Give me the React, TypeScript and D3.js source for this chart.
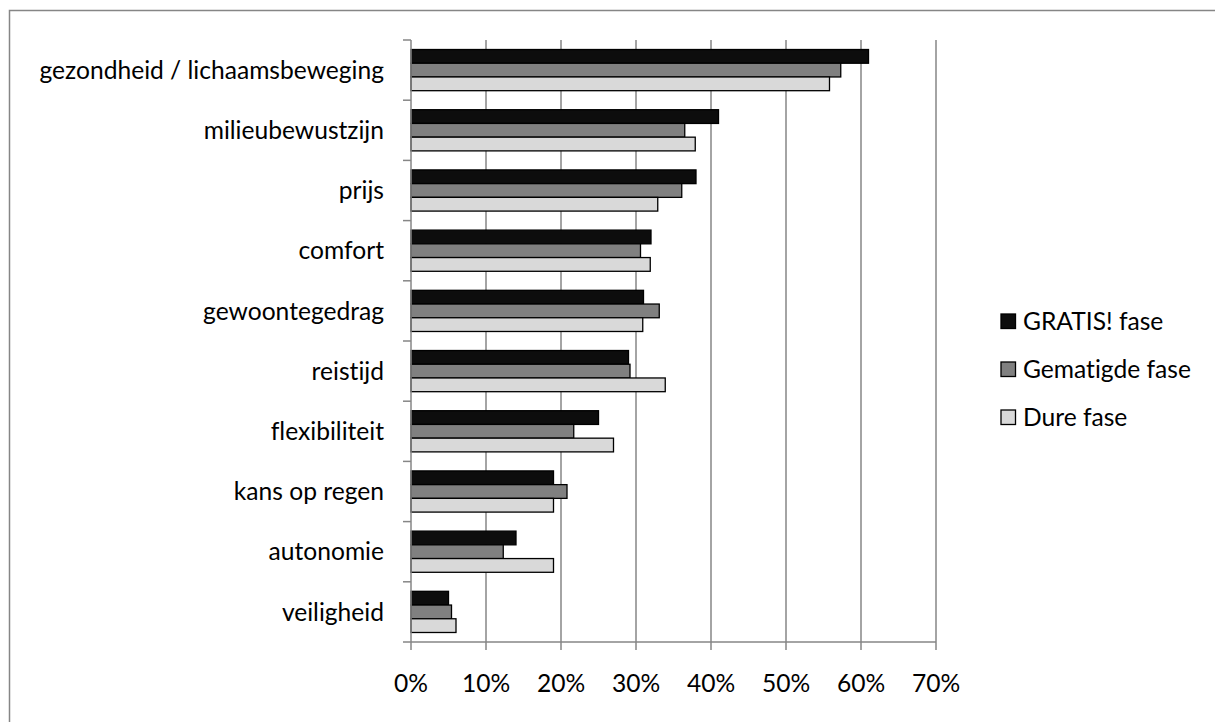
import React from "react";
import * as d3 from "d3";

// Motives for choosing the bicycle, per pricing phase (share of respondents)
const categories = [
  "gezondheid / lichaamsbeweging",
  "milieubewustzijn",
  "prijs",
  "comfort",
  "gewoontegedrag",
  "reistijd",
  "flexibiliteit",
  "kans op regen",
  "autonomie",
  "veiligheid",
];

const seriesNames = ["GRATIS! fase", "Gematigde fase", "Dure fase"];

const gratisValues = [0.61, 0.41, 0.38, 0.32, 0.31, 0.29, 0.25, 0.19, 0.14, 0.05];
const gematigdValues = [0.573, 0.365, 0.361, 0.306, 0.331, 0.292, 0.217, 0.208, 0.123, 0.054];
const dureValues = [0.558, 0.379, 0.329, 0.319, 0.309, 0.339, 0.27, 0.19, 0.19, 0.06];

const xTicks = [0, 0.1, 0.2, 0.3, 0.4, 0.5, 0.6, 0.7];

const fills = ["#0d0d0d", "#808080", "#d9d9d9"];

const W = 1215;
const H = 722;
const plot = { left: 411, right: 936, top: 40, bottom: 642 };
const FONT = "Lato, 'Liberation Sans', sans-serif";
const FS = 24.6;

export default function App() {
  const x = d3.scaleLinear().domain([0, 0.7]).range([plot.left, plot.right]);
  const y = d3
    .scaleBand<string>()
    .domain(categories)
    .range([plot.top, plot.bottom])
    .paddingInner(0.316)
    .paddingOuter(0.158);
  const inner = d3
    .scaleBand<string>()
    .domain(seriesNames)
    .range([0, y.bandwidth()]);

  const allSeries = [gratisValues, gematigdValues, dureValues];
  const step = y.step();

  return (
    <svg
      width={W}
      height={H}
      style={{ position: "absolute", left: 0, top: 0, background: "#fff", fontVariantLigatures: "none" }}
      fontFamily={FONT}
    >
      <rect x={0} y={0} width={W} height={H} fill="#fff" />
      {/* chart area border */}
      <rect x={9.5} y={10.5} width={W + 20} height={H + 20} fill="none" stroke="#868686" strokeWidth={1.5} />

      {/* vertical gridlines */}
      {xTicks.slice(1).map((t) => (
        <line key={t} x1={x(t)} x2={x(t)} y1={plot.top} y2={plot.bottom} stroke="#868686" strokeWidth={1.5} />
      ))}

      {/* bars */}
      {categories.map((c, i) => (
        <g key={c} transform={`translate(0,${y(c)})`}>
          {seriesNames.map((s, j) => (
            <rect
              key={s}
              x={x(0)}
              y={inner(s)}
              width={x(allSeries[j][i]) - x(0)}
              height={inner.bandwidth()}
              fill={fills[j]}
              stroke="#000"
              strokeWidth={1.3}
            />
          ))}
        </g>
      ))}

      {/* category axis */}
      <line x1={plot.left} x2={plot.left} y1={plot.top} y2={plot.bottom} stroke="#868686" strokeWidth={1.5} />
      {categories.map((c, i) => (
        <line
          key={"t" + c}
          x1={plot.left - 8}
          x2={plot.left}
          y1={plot.top + i * step}
          y2={plot.top + i * step}
          stroke="#868686"
          strokeWidth={1.5}
        />
      ))}
      <line x1={plot.left - 8} x2={plot.left} y1={plot.bottom} y2={plot.bottom} stroke="#868686" strokeWidth={1.5} />
      {categories.map((c) => (
        <text
          key={"l" + c}
          x={384}
          y={(y(c) ?? 0) + y.bandwidth() / 2}
          dy="0.35em"
          textAnchor="end"
          fontSize={FS}
          fill="#000"
        >
          {c}
        </text>
      ))}

      {/* value axis */}
      <line x1={plot.left} x2={plot.right} y1={plot.bottom} y2={plot.bottom} stroke="#868686" strokeWidth={1.5} />
      {xTicks.map((t) => (
        <g key={"x" + t}>
          <line x1={x(t)} x2={x(t)} y1={plot.bottom} y2={plot.bottom + 8} stroke="#868686" strokeWidth={1.5} />
          <text x={x(t)} y={692} textAnchor="middle" fontSize={FS} fill="#000">
            {d3.format(".0%")(t)}
          </text>
        </g>
      ))}

      {/* legend */}
      {seriesNames.map((s, j) => (
        <g key={"lg" + s} transform={`translate(1001,${314 + j * 48})`}>
          <rect x={0} y={0} width={14.5} height={14.5} fill={fills[j]} stroke="#000" strokeWidth={1.3} />
          <text x={22} y={7.5} dy="0.35em" fontSize={FS} fill="#000">
            {s}
          </text>
        </g>
      ))}
    </svg>
  );
}
